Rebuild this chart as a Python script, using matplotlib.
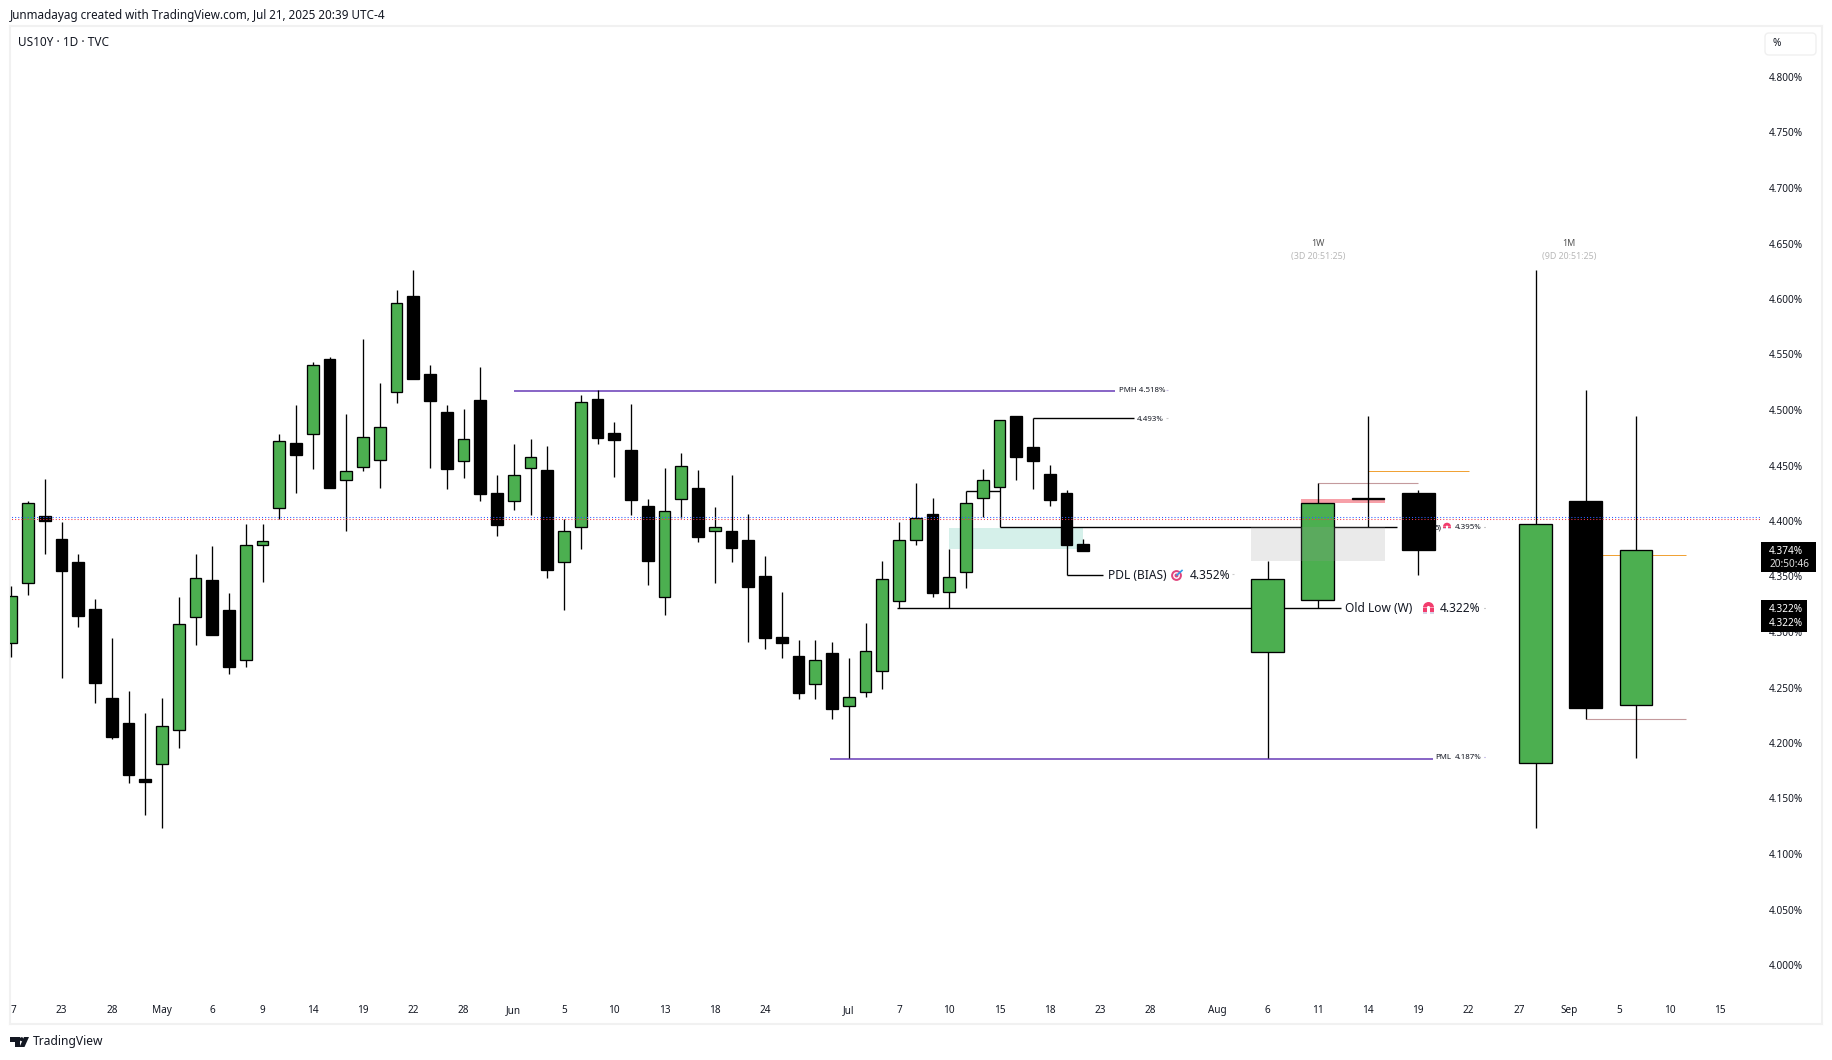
import matplotlib
matplotlib.use("agg")
import matplotlib.pyplot as plt
from matplotlib.patches import Circle, FancyBboxPatch, Polygon, Rectangle, Wedge

plt.rcParams["font.family"] = ["Noto Sans", "DejaVu Sans"]

# daily candles, one per bar slot
opens = [4.2898, 4.3439, 4.4041, 4.3842, 4.3635, 4.3208, 4.2403, 4.2178, 4.1676, 4.1808,
         4.2114, 4.3133, 4.3468, 4.3194, 4.2745, 4.3788, 4.4116, 4.4700, 4.4782, 4.5459,
         4.4369, 4.4483, 4.4547, 4.5160, 4.6026, 4.5320, 4.4982, 4.4537, 4.5090, 4.4252,
         4.4177, 4.4475, 4.4459, 4.3628, 4.3943, 4.5099, 4.4793, 4.4640, 4.4135, 4.3312,
         4.4195, 4.4297, 4.3907, 4.3910, 4.3829, 4.3505, 4.2955, 4.2784, 4.2529, 4.2811,
         4.2330, 4.2456, 4.2646, 4.3276, 4.3826, 4.4063, 4.3357, 4.3538, 4.4204, 4.4303,
         4.4946, 4.4667, 4.4424, 4.4252, 4.3793]
highs = [4.3414, 4.4180, 4.4380, 4.3992, 4.3703, 4.3297, 4.2944, 4.2467, 4.2271, 4.2406,
         4.3315, 4.3703, 4.3774, 4.3350, 4.3974, 4.3974, 4.4782, 4.5046, 4.5431, 4.5477,
         4.4964, 4.5641, 4.5242, 4.6083, 4.6261, 4.5406, 4.5046, 4.5010, 4.5387, 4.4414,
         4.4694, 4.4739, 4.4676, 4.4018, 4.5135, 4.5177, 4.4892, 4.5054, 4.4198, 4.4478,
         4.4613, 4.4459, 4.4126, 4.4414, 4.4063, 4.3685, 4.3360, 4.2928, 4.2928, 4.2910,
         4.2766, 4.3081, 4.3640, 4.3991, 4.4342, 4.4207, 4.3748, 4.4267, 4.4469, 4.4907,
         4.4946, 4.4925, 4.4505, 4.4279, 4.3838]
lows = [4.2777, 4.3329, 4.3706, 4.2588, 4.3048, 4.2356, 4.2039, 4.1644, 4.1355, 4.1234,
        4.1957, 4.2887, 4.2969, 4.2624, 4.2688, 4.3454, 4.4020, 4.4255, 4.4472, 4.4301,
        4.3906, 4.4451, 4.4301, 4.5067, 4.5281, 4.4480, 4.4284, 4.4383, 4.4183, 4.3868,
        4.4099, 4.4054, 4.3490, 4.3201, 4.3751, 4.4697, 4.4399, 4.4054, 4.3426, 4.3156,
        4.4030, 4.3814, 4.3445, 4.3634, 4.2913, 4.2850, 4.2769, 4.2399, 4.2399, 4.2219,
        4.1862, 4.2417, 4.2490, 4.3213, 4.3787, 4.3318, 4.3213, 4.3399, 4.4036, 4.3943,
        4.4372, 4.4291, 4.4138, 4.3511, 4.3733]
closes = [4.3322, 4.4159, 4.4002, 4.3553, 4.3140, 4.2545, 4.2050, 4.1715, 4.1651, 4.2150,
          4.3076, 4.3482, 4.2969, 4.2681, 4.3788, 4.3817, 4.4725, 4.4597, 4.5409, 4.4301,
          4.4447, 4.4761, 4.4843, 4.5962, 4.5281, 4.5085, 4.4472, 4.4743, 4.4246, 4.3967,
          4.4411, 4.4574, 4.3562, 4.3907, 4.5069, 4.4751, 4.4733, 4.4192, 4.3643, 4.4087,
          4.4493, 4.3859, 4.3943, 4.3760, 4.3408, 4.2949, 4.2904, 4.2453, 4.2745, 4.2309,
          4.2412, 4.2826, 4.3475, 4.3826, 4.4024, 4.3354, 4.3493, 4.4159, 4.4366, 4.4907,
          4.4580, 4.4544, 4.4192, 4.3787, 4.3733]

# weekly and monthly candles on the right of the chart
htf_slots = [75, 78, 81, 84, 91, 94, 97]
htf_opens = [4.2817, 4.3286, 4.4205, 4.4250, 4.1817, 4.4180, 4.2340]
htf_highs = [4.3640, 4.4340, 4.4946, 4.4279, 4.6261, 4.5180, 4.4946]
htf_lows = [4.1862, 4.3214, 4.3946, 4.3516, 4.1237, 4.2214, 4.1868]
htf_closes = [4.3475, 4.4159, 4.4196, 4.3741, 4.3970, 4.2318, 4.3736]

tick_slots = [0.15, 3, 6, 9, 12, 15, 18, 21, 24, 27, 30, 33, 36, 39, 42, 45, 50, 53, 56, 59,
              62, 65, 68, 72, 75, 78, 81, 84, 87, 90, 93, 96, 99, 102]
tick_labels = ["7", "23", "28", "May", "6", "9", "14", "19", "22", "28", "Jun", "5", "10", "13",
               "18", "24", "Jul", "7", "10", "15", "18", "23", "28", "Aug", "6", "11", "14",
               "19", "22", "27", "Sep", "5", "10", "15"]
month_labels = ["May", "Jun", "Jul", "Aug", "Sep"]
price_ticks = [4.00, 4.05, 4.10, 4.15, 4.20, 4.25, 4.30, 4.35, 4.40, 4.45, 4.50, 4.55, 4.60,
               4.65, 4.70, 4.75, 4.80]

GREEN = "#4caf50"
PURPLE = "#673ab7"
ROSE = "#c49a9d"
ORANGE = "#f0a030"
INK = "#131722"
W, H = 1832, 1060


def px_x(v):
    return (v - 11.3) / 16.75


def px_y(v):
    return 4.8 - (v - 77) / 1110


fig = plt.figure(figsize=(W / 100, H / 100), dpi=100, facecolor="white")
ax = fig.add_axes([10 / W, 1 - 1024 / H, (1822 - 10) / W, (1024 - 26) / H])
ax.set_xlim(px_x(10), px_x(1822))
ax.set_ylim(px_y(1024), px_y(26))
for side in ax.spines.values():
    side.set_color("#f1f1f1")
    side.set_linewidth(1.5)


def draw_candles(slots, o, h, l, c, width, lw):
    colors = [GREEN if b >= a else "black" for a, b in zip(o, c)]
    ax.vlines(slots, l, h, color="black", lw=lw, zorder=3)
    bottoms = [min(a, b) for a, b in zip(o, c)]
    heights = [abs(a - b) for a, b in zip(o, c)]
    ax.bar(slots, heights, width, bottoms, color=colors, edgecolor="black", linewidth=lw, zorder=4)


draw_candles(list(range(len(opens))), opens, highs, lows, closes, 0.7, 0.95)
draw_candles(htf_slots, htf_opens, htf_highs, htf_lows, htf_closes, 1.96, 0.95)

# zones
ax.fill_between([56, 64], 4.3748, 4.394, color="#d5f0ea", lw=0, zorder=1)
ax.fill_between([77, 82], 4.4162, 4.4198, color="#f7a0a8", lw=0, zorder=2)
ax.fill_between([74, 82], 4.3642, 4.3946, color="#999999", alpha=0.2, lw=0, zorder=5)

# level lines
ax.hlines(4.5175, 30, 65.87, color=PURPLE, lw=1.1, zorder=2)
ax.hlines(4.186, 48.9, 84.86, color=PURPLE, lw=1.1, zorder=2)
ax.hlines(4.4925, 61, 67.05, color="black", lw=1, zorder=2)
ax.hlines(4.322, 52.9, 79.4, color="black", lw=1, zorder=2)
ax.hlines(4.3511, 63, 65.2, color="black", lw=1, zorder=2)
ax.hlines(4.3943, 59, 82.7, color="black", lw=1, zorder=2)
ax.hlines(4.4268, 57, 59, color="black", lw=1, zorder=2)
ax.hlines(4.434, 78, 84, color=ROSE, lw=0.8, zorder=2)
ax.hlines(4.2214, 94, 100, color=ROSE, lw=0.8, zorder=2)
ax.hlines(4.4448, 81, 87, color=ORANGE, lw=0.7, zorder=2)
ax.hlines(4.3691, 94, 100, color=ORANGE, lw=0.7, zorder=2)

# dotted price lines run over the candles
ax.plot([-1, px_x(1760.6)], [4.4032, 4.4032], color="#2962ff", lw=0.75, ls=(0, (1, 2)), zorder=6)
ax.plot([-1, px_x(1760.6)], [4.4015, 4.4015], color="#f23645", lw=0.75, ls=(0, (1, 2)), zorder=6)

# small end marks after the labels
for slot, level, col in [(68.95, 4.518, "#c8bce6"), (68.95, 4.493, "#cccccc"), (72.9, 4.352, "#cccccc"),
                         (87.9, 4.395, "#999999"), (87.9, 4.322, "#999999"), (87.9, 4.187, "#9f8fd8")]:
    ax.hlines(level, slot, slot + 0.1, color=col, lw=0.8, zorder=2)

# labels on the chart
small = dict(fontsize=5.7, color=INK, va="center", zorder=7)
large = dict(fontsize=8.6, color=INK, va="center", zorder=7)
ax.text(66.11, 4.5172, "PMH 4.518%", ha="left", **small)
ax.text(68.82, 4.4918, "4.493%", ha="right", **small)
ax.text(85.0, 4.1866, "PML", ha="left", **small)
ax.text(87.77, 4.1866, "4.187%", ha="right", **small)
ax.text(87.77, 4.3938, "4.395%", ha="right", **small)
ax.text(85.36, 4.3938, "5)", ha="right", **small)
ax.text(65.46, 4.3505, "PDL (BIAS)", ha="left", **large)
ax.text(72.76, 4.3505, "4.352%", ha="right", **large)
ax.text(79.6, 4.3215, "Old Low (W)", ha="left", **large)
ax.text(87.73, 4.3215, "4.322%", ha="right", **large)
for slot, name, left in [(78, "1W", "(3D 20:51:25)"), (93, "1M", "(9D 20:51:25)")]:
    ax.text(slot, 4.6496, name, fontsize=6.4, color="#555555", ha="center", va="center")
    ax.text(slot, 4.6386, left, fontsize=6.4, color="#b8b8b8", ha="center", va="center")

# axes labels sit inside the panel, TradingView style
ax.yaxis.tick_right()
ax.set_yticks(price_ticks)
ax.set_yticklabels([f"{p:.3f}%" for p in price_ticks], fontsize=7.2, color=INK)
ax.tick_params(axis="y", length=0, pad=-38)
ax.set_xticks(tick_slots)
ax.set_xticklabels(tick_labels, fontsize=7.2, color=INK)
ax.tick_params(axis="x", length=0, pad=-7.9)
for lbl in ax.get_xticklabels():
    lbl.set_verticalalignment("baseline")
    if lbl.get_text() in month_labels:
        lbl.set_fontweight("medium")

# page furniture in pixel coordinates
ov = fig.add_axes([0, 0, 1, 1], facecolor="none", zorder=10)
ov.set_xlim(0, W)
ov.set_ylim(H, 0)
ov.axis("off")
ov.text(10, 16, "Junmadayag created with TradingView.com, Jul 21, 2025 20:39 UTC-4", fontsize=8.42,
        color=INK, va="center")
ov.text(18, 42, "US10Y · 1D · TVC", fontsize=8.5, color=INK, va="center")
ov.text(33, 1042, "TradingView", fontsize=8.7, color=INK, va="center")
ov.add_patch(FancyBboxPatch((1765, 33), 51, 22, boxstyle="round,pad=0,rounding_size=4", fc="white",
                            ec="#f0f0f0", lw=1))
ov.text(1777, 44, "%", fontsize=7.2, color=INK, ha="center", va="center")

# last price tags
ov.add_patch(Rectangle((1761, 542), 55, 29.7, fc="black", ec="none"))
ov.text(1769, 551, "4.374%", fontsize=7.2, color="white", va="center")
ov.text(1769, 564.3, "20:50:46", fontsize=7.2, color="#dddddd", va="center")
ov.add_patch(Rectangle((1761, 600), 45.7, 31.7, fc="black", ec="none"))
ov.text(1769, 609, "4.322%", fontsize=7.2, color="white", va="center")
ov.text(1769, 624, "4.322%", fontsize=7.2, color="white", va="center")


def magnet(x0, x1, y0, y1):
    r = (x1 - x0) / 2
    cx = x0 + r
    leg = r * 0.72
    tail = y1 - y0 - r
    ov.add_patch(Wedge((cx, y0 + r), r, 180, 360, width=leg, fc="#f23d6d", ec="none"))
    for left in (x0, x1 - leg):
        ov.add_patch(Rectangle((left, y0 + r), leg, tail * 0.62, fc="#f23d6d", ec="none"))
        ov.add_patch(Rectangle((left, y0 + r + tail * 0.62), leg, tail * 0.38, fc="#d9d2e6", ec="none"))


magnet(1423, 1434, 602, 614)
magnet(1443, 1451, 522.7, 529.3)

# target icon next to PDL
ov.add_patch(Circle((1176.5, 575.5), 5.4, fc="#e0447c", ec="none"))
ov.add_patch(Circle((1176.5, 575.5), 3.4, fc="white", ec="none"))
ov.add_patch(Circle((1176.5, 575.5), 2.0, fc="#e0447c", ec="none"))
ov.plot([1177, 1182], [575, 570.5], color="#2f9be8", lw=1.2)

# logo
ov.add_patch(Polygon([(10, 1037), (19.5, 1037), (19.5, 1047), (14.5, 1047), (14.5, 1042), (10, 1042)],
                     fc=INK, ec="none"))
ov.add_patch(Circle((21.6, 1039.2), 2, fc=INK, ec="none"))
ov.add_patch(Polygon([(24, 1037), (29, 1037), (24.5, 1047), (19.5, 1047)], fc=INK, ec="none"))

fig.savefig("out.png", dpi=100)
plt.close(fig)
